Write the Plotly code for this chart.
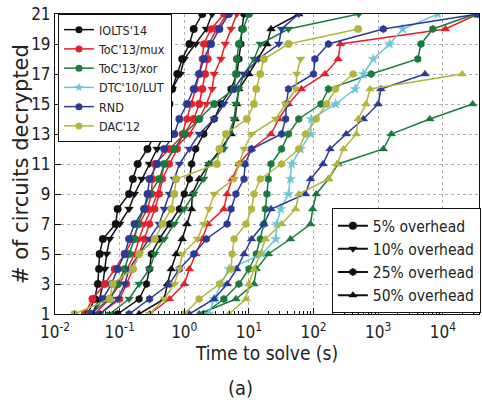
import plotly.graph_objects as go

# Time (s) needed to decrypt the k-th circuit, k = 1..n, per technique and overhead
iolts_5 = [0.032, 0.041, 0.046, 0.048, 0.049, 0.055, 0.087, 0.093, 0.14, 0.16, 0.19,
           0.27, 0.35, 0.46, 0.59, 0.65, 0.78, 0.93, 1.2, 1.4, 1.9]
iolts_10 = [0.037, 0.049, 0.055, 0.059, 0.063, 0.070, 0.10, 0.14, 0.17, 0.22, 0.29,
            0.38, 0.49, 0.53, 0.55, 0.65, 0.87, 1.0, 1.5, 2.2, 2.7]
iolts_25 = [0.093, 0.20, 0.26, 0.29, 0.31, 0.41, 0.59, 0.84, 1.0, 1.2, 1.3,
            1.5, 2.0, 2.9, 3.7, 5.3, 6.5, 7.0, 7.5, 7.8, 8.4]
iolts_50 = [0.20, 0.49, 0.55, 0.63, 0.75, 0.93, 1.1, 1.3, 1.33, 1.7, 2.4,
            3.7, 5.3, 6.1, 6.5, 7.0, 10, 14, 19, 22, 59]

mux_5 = [0.029, 0.038, 0.059, 0.084, 0.12, 0.16, 0.20, 0.27, 0.31, 0.32, 0.35,
         0.59, 1.0, 1.4, 1.7, 1.9, 2.1, 2.3, 2.4, 3.2, 4.6]
mux_10 = [0.041, 0.070, 0.10, 0.13, 0.17, 0.20, 0.24, 0.31, 0.38, 0.44, 0.49,
          0.70, 1.2, 1.7, 2.2, 2.7, 2.9, 3.7, 4.3, 5.3, 6.5]
mux_25 = [0.049, 0.10, 0.128, 0.16, 0.20, 0.24, 0.29, 0.35, 0.41, 0.46, 0.59,
          0.78, 0.93, 1.1, 1.3, 1.5, 1.7, 1.9, 2.0, 2.6, 4.1]
mux_50 = [0.29, 0.59, 1.0, 1.2, 1.5, 1.9, 2.3, 4.1, 4.6, 5.5, 7.0,
          11, 22, 29, 41, 65, 150, 240, 260, 11000, 35000]

xor_5 = [0.035, 0.070, 0.093, 0.12, 0.14, 0.17, 0.19, 0.24, 0.29, 0.41, 0.49,
         0.70, 1.0, 1.7, 2.9, 5.9, 6.3, 6.5, 7.0, 8.1, 10]
xor_10 = [0.070, 0.14, 0.20, 0.29, 0.35, 0.49, 0.70, 1.0, 1.4, 2.0, 2.4,
          4.1, 4.9, 5.9, 6.3, 7.0, 8.4, 12, 15, 41, 500]
xor_25 = [2.0, 4.1, 7.0, 10, 13, 15, 17, 18, 19, 20, 22,
          32, 41, 59, 130, 170, 780, 4100, 4600, 7000, 32000]
xor_50 = [1.7, 6.3, 12, 13, 20, 44, 90, 97, 110, 170, 240,
          1200, 1600, 6300, 29000]

lut = [2.4, 2.9, 3.7, 4.9, 16, 26, 27, 31, 41, 44, 46,
       63, 90, 92, 220, 440, 590, 840, 1500, 2400, 8400]

rnd_5 = [0.037, 0.055, 0.075, 0.093, 0.12, 0.14, 0.17, 0.24, 0.27, 0.29, 0.38,
         0.49, 0.70, 0.84, 1.1, 1.4, 1.7, 2.0, 2.6, 3.5, 4.9]
rnd_10 = [0.049, 0.093, 0.12, 0.14, 0.20, 0.29, 0.41, 0.49, 0.59, 0.70, 0.84,
          1.2, 1.7, 2.9, 4.1, 5.9, 8.4, 14, 29, 32, 59]
rnd_25 = [0.14, 0.29, 0.59, 0.84, 1.4, 2.2, 4.6, 5.3, 6.3, 8.4, 8.7,
          11, 32, 37, 38, 41, 100, 105, 170, 1200, 35000]
rnd_50 = [1.2, 2.9, 4.6, 6.5, 8.4, 11, 17, 22, 75, 90, 140,
          180, 320, 590, 1000, 1100, 5300]

dac_5 = [0.020, 0.070, 0.078, 0.16, 0.20, 0.35, 0.46, 0.63, 0.70, 0.75, 3.2,
         3.5, 4.4, 9.3, 12, 13, 15, 17, 41, 490]
dac_10 = [0.29, 0.49, 0.70, 0.84, 0.93, 1.6, 2.0, 2.4, 2.9, 5.9, 7.0,
          8.4, 11, 26, 37, 53, 55, 63]
dac_25 = [1.0, 1.7, 3.5, 5.3, 5.5, 5.9, 9.0, 11, 12, 15, 32,
          59, 75, 110, 160, 220, 410]
dac_50 = [4.9, 9.0, 10, 12, 15, 18, 32, 53, 59, 170, 230,
          290, 460, 490, 650, 750, 20000]

techniques = ["IOLTS'14", "ToC'13/mux", "ToC'13/xor", "DTC'10/LUT", "RND", "DAC'12"]
tech_colors = ["#111111", "#e3202c", "#1a7a3e", "#68c6d8", "#2a3a96", "#b3b53a"]
overheads = ["5% overhead", "10% overhead", "25% overhead", "50% overhead"]
oh_symbols = ["circle", "triangle-down", "hexagon", "triangle-up"]

x_tick_values = [0.01, 0.1, 1, 10, 100, 1000, 10000]
x_tick_labels = ["10<sup>-2</sup>", "10<sup>-1</sup>", "10<sup>0</sup>", "10<sup>1</sup>",
                 "10<sup>2</sup>", "10<sup>3</sup>", "10<sup>4</sup>"]
y_tick_values = list(range(1, 22, 2))

series = {
    "IOLTS'14": [iolts_5, iolts_10, iolts_25, iolts_50],
    "ToC'13/mux": [mux_5, mux_10, mux_25, mux_50],
    "ToC'13/xor": [xor_5, xor_10, xor_25, xor_50],
    "DTC'10/LUT": [lut],
    "RND": [rnd_5, rnd_10, rnd_25, rnd_50],
    "DAC'12": [dac_5, dac_10, dac_25, dac_50],
}

FONT = "DejaVu Sans"
NARROW = "DejaVu Sans Condensed, DejaVu Sans"
TXT = "#222222"

fig = go.Figure()

for tech, color in zip(techniques, tech_colors):
    for i, times in enumerate(series[tech]):
        symbol = "star" if tech == "DTC'10/LUT" else oh_symbols[i]
        fig.add_trace(go.Scatter(
            x=times, y=list(range(1, len(times) + 1)),
            mode="lines+markers",
            line=dict(color=color, width=1.5),
            marker=dict(symbol=symbol, size=7.5, color=color,
                        line=dict(width=0.5, color=color)),
            showlegend=False, hoverinfo="skip",
        ))

# technique legend (colour key)
for tech, color in zip(techniques, tech_colors):
    symbol = "star" if tech == "DTC'10/LUT" else "circle"
    fig.add_trace(go.Scatter(
        x=[None], y=[None], mode="lines+markers", name=tech,
        line=dict(color=color, width=1.5),
        marker=dict(symbol=symbol, size=7, color=color),
        legend="legend",
    ))

# overhead legend (marker key)
for oh, sym in zip(overheads, oh_symbols):
    fig.add_trace(go.Scatter(
        x=[None], y=[None], mode="lines+markers", name=oh,
        line=dict(color="#111111", width=2),
        marker=dict(symbol=sym, size=8, color="#111111"),
        legend="legend2",
    ))

minor_vals = [m * 10.0 ** e for e in range(-2, 5) for m in range(2, 10)]

fig.update_layout(
    width=482, height=406,
    margin=dict(l=55, r=1, t=14, b=92),
    paper_bgcolor="white", plot_bgcolor="white",
    font=dict(family=NARROW, color=TXT, size=17),
    legend=dict(
        x=0.007, y=1.0, xanchor="left", yanchor="top",
        bgcolor="white", bordercolor="#111111", borderwidth=1,
        font=dict(family=NARROW, size=12.5, color=TXT),
        itemwidth=30, tracegroupgap=0,
    ),
    legend2=dict(
        x=0.653, y=0.353, xanchor="left", yanchor="top",
        bgcolor="white", bordercolor="#111111", borderwidth=1,
        font=dict(family=NARROW, size=15.5, color=TXT),
        itemwidth=30, tracegroupgap=0,
    ),
    annotations=[
        dict(text="# of circuits decrypted", xref="paper", yref="paper",
             x=-0.08, y=0.5, xanchor="center", yanchor="middle",
             textangle=-90, showarrow=False,
             font=dict(family=FONT, size=21, color=TXT)),
        dict(text="(a)", xref="paper", yref="paper", x=0.437, y=-0.247,
             xanchor="center", yanchor="middle", showarrow=False,
             font=dict(family=NARROW, size=20, color=TXT)),
    ],
)

fig.update_xaxes(
    type="log", range=[-2, 4.56],
    tickmode="array", tickvals=x_tick_values, ticktext=x_tick_labels,
    ticks="inside", ticklen=6, tickcolor="#111111", ticklabelstandoff=3,
    minor=dict(tickmode="array", tickvals=minor_vals, ticks="inside",
               ticklen=3, tickcolor="#111111", showgrid=False),
    showgrid=True, gridcolor="#b0b0b0", griddash="dot", gridwidth=1,
    showline=True, mirror=True, linecolor="#111111", linewidth=1,
    zeroline=False,
    title=dict(text="Time to solve (s)", standoff=4,
               font=dict(family=NARROW, size=19, color=TXT)),
    tickfont=dict(family=NARROW, size=17, color=TXT),
)

fig.update_yaxes(
    range=[1, 21],
    tickmode="array", tickvals=y_tick_values,
    ticks="inside", ticklen=6, tickcolor="#111111",
    showgrid=True, gridcolor="#b0b0b0", griddash="dot", gridwidth=1,
    showline=True, mirror=True, linecolor="#111111", linewidth=1,
    zeroline=False,
    tickfont=dict(family=NARROW, size=17, color=TXT),
)

fig.write_html("out.html")
